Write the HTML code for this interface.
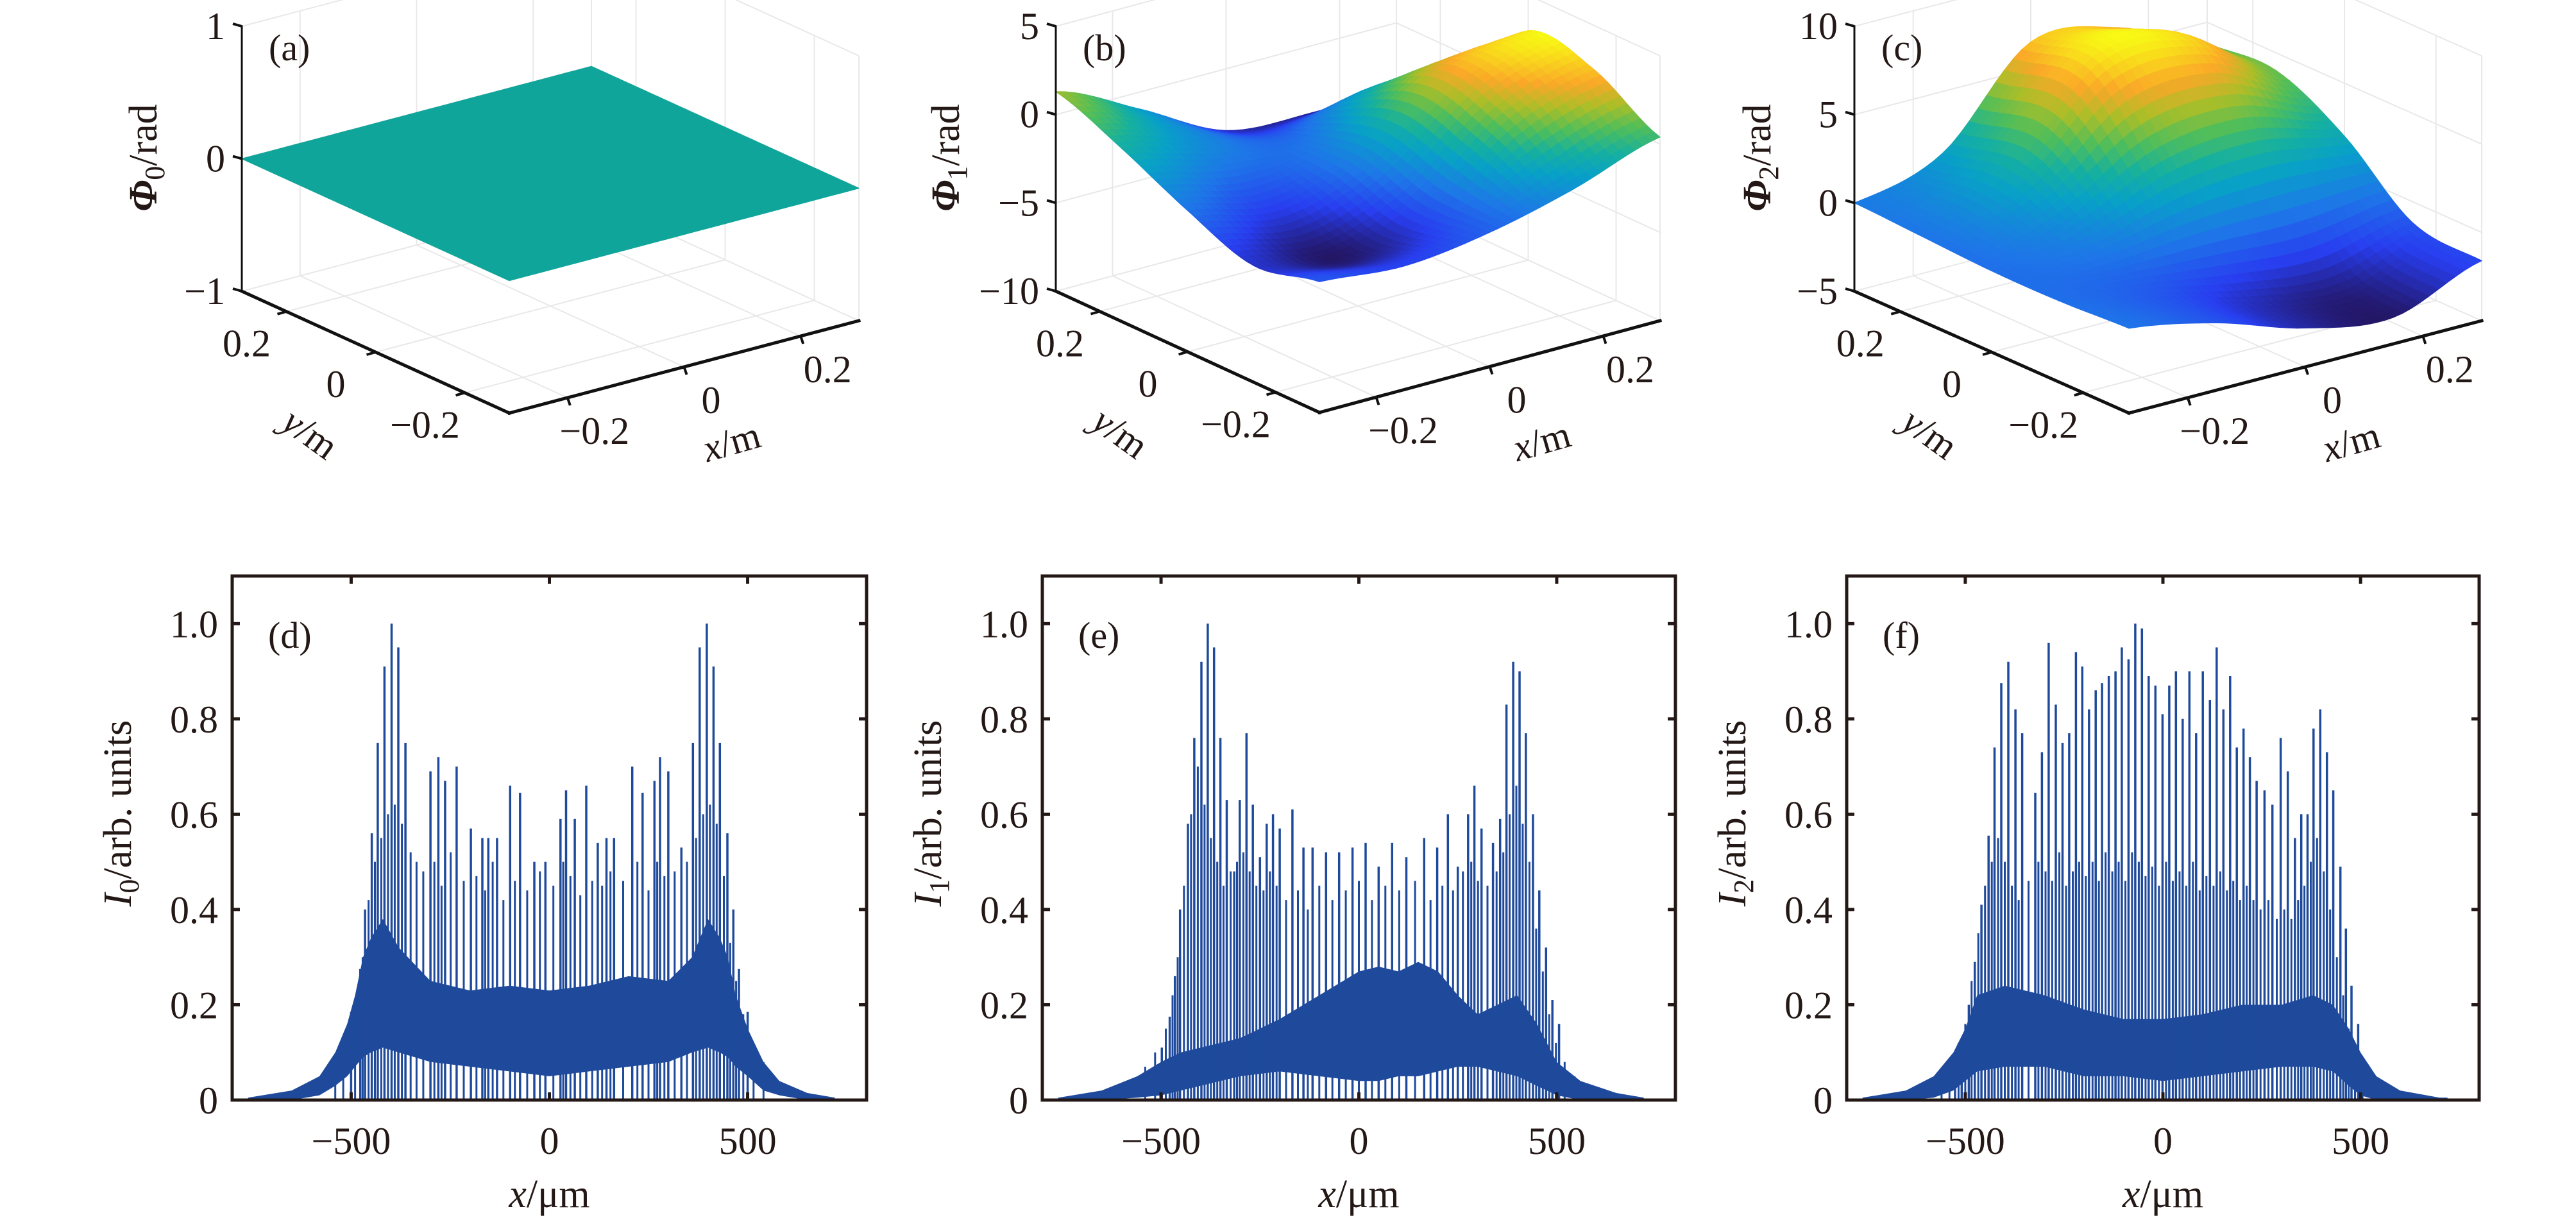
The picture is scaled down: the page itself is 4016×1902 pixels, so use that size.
<!DOCTYPE html>
<html><head><meta charset="utf-8">
<style>
html,body{margin:0;padding:0;background:#fff;}
svg{display:block;}
text{font-family:"Liberation Serif",serif;fill:#231815;}
</style></head>
<body>
<svg id="fig" xmlns="http://www.w3.org/2000/svg" width="4016" height="1902" viewBox="0 0 4016 1902">
<rect width="4016" height="1902" fill="#fff"/>
<g id="top"></g>
<g id="bottom"></g>
</svg>
<script>
// ===== 3D phase surface data (z in rad), rows: y from -0.3 (front) to 0.3, cols: x from -0.3 to 0.3 =====
const phiGridA = [
  [0,0,0,0,0],[0,0,0,0,0],[0,0,0,0,0],[0,0,0,0,0],[0,0,0,0,0]
];
const phiGridB = [
  [-2.6,-3.0,-2.4,-1.2,0.4],
  [-3.4,-4.2,-2.6,1.0,2.5],
  [-2.0,-3.0,-1.5,2.0,3.0],
  [-0.2,-1.5,-2.2,-0.5,-1.5],
  [1.3,-1.0,-3.5,-3.8,-3.6]
];
const phiGridC = [
  [-0.2,-1.2,-2.8,-3.5,-1.6],
  [-0.4,-1.0,-2.0,-2.5,-1.2],
  [-0.4,0.5,2.5,3.0,2.0],
  [-0.2,2.2,7.0,7.0,4.0],
  [0.0,1.5,6.5,6.0,3.8]
];
const xyTicks = [-0.2, 0, 0.2];
const xyTickLabels = ["\u22120.2", "0", "0.2"];
const zTicksA = [-1, 0, 1];
const zTicksB = [-10, -5, 0, 5];
const zTicksC = [-5, 0, 5, 10];

// ===== 2D intensity data =====
const xTicks = [-500, 0, 500];
const xTickLabels = ["\u2212500", "0", "500"];
const yTicks = [0, 0.2, 0.4, 0.6, 0.8, 1.0];
const yTickLabels = ["0", "0.2", "0.4", "0.6", "0.8", "1.0"];

const spikeXD = [-500,-477,-465,-448,-433,-416,-398,-381,-363,-300,-280,-263,-234,-198,-169,-154,-132,-99,-74,-38,-10,28,42,64,93,122,144,163,209,235,265,279,300,333,362,379,397,414,430,449,464,478,500];
const spikeHD = [0.185,0.275,0.40,0.56,0.75,0.91,1.0,0.95,0.75,0.69,0.72,0.67,0.70,0.57,0.55,0.55,0.55,0.66,0.645,0.50,0.50,0.59,0.65,0.59,0.66,0.54,0.55,0.55,0.70,0.645,0.67,0.72,0.69,0.53,0.75,0.95,1.0,0.91,0.75,0.56,0.40,0.275,0.185];
const midXD = [-540,-520,-490,-471,-456,-440,-424,-407,-390,-372,-350,-335,-318,-290,-272,-249,-216,-184,-162,-143,-116,-87,-56,-24,10,35,53,78,108,133,154,186,222,250,272,290,316,347,370,388,405,422,440,456,471,489,515,540];
const midHD = [0.08,0.12,0.2,0.3,0.42,0.5,0.55,0.6,0.62,0.58,0.52,0.5,0.48,0.5,0.45,0.52,0.46,0.47,0.44,0.5,0.42,0.46,0.44,0.48,0.45,0.5,0.47,0.43,0.46,0.45,0.48,0.46,0.5,0.44,0.5,0.47,0.48,0.5,0.55,0.6,0.62,0.58,0.47,0.33,0.25,0.18,0.12,0.08];
const bandXD = [-760,-650,-580,-540,-510,-490,-470,-450,-420,-380,-300,-200,-100,0,100,200,300,360,400,430,450,470,500,540,580,650,720];
const bandHiD = [0.005,0.02,0.05,0.10,0.16,0.22,0.30,0.34,0.38,0.32,0.25,0.23,0.24,0.23,0.24,0.26,0.25,0.30,0.38,0.34,0.30,0.22,0.15,0.08,0.04,0.015,0.005];
const bandLoD = [0,0,0.01,0.03,0.05,0.07,0.09,0.10,0.11,0.10,0.08,0.07,0.06,0.05,0.06,0.07,0.08,0.10,0.11,0.10,0.09,0.07,0.05,0.02,0.01,0,0];

const spikeXE = [-498,-478,-465,-452,-432,-416,-398,-382,-366,-350,-334,-315,-301,-284,-268,-250,-233,-217,-200,-168,-140,-117,-83,-50,-16,17,50,84,120,165,198,225,250,276,292,310,339,357,373,390,406,422,440,456,473,489,506];
const spikeHE = [0.11,0.175,0.26,0.40,0.58,0.76,0.92,1.0,0.95,0.76,0.63,0.48,0.63,0.77,0.62,0.51,0.58,0.60,0.57,0.61,0.53,0.53,0.52,0.52,0.53,0.54,0.49,0.54,0.51,0.55,0.53,0.60,0.49,0.60,0.66,0.57,0.54,0.59,0.83,0.92,0.90,0.77,0.60,0.44,0.32,0.21,0.16];
const midXE = [-540,-515,-488,-471,-458,-442,-424,-407,-390,-374,-358,-342,-324,-308,-292,-276,-259,-241,-225,-208,-184,-154,-129,-100,-67,-33,0,33,67,102,142,181,211,238,263,284,301,325,348,365,381,398,414,431,448,465,481,498,520,545];
const midHE = [0.07,0.1,0.15,0.22,0.3,0.45,0.6,0.7,0.62,0.55,0.5,0.45,0.48,0.5,0.52,0.48,0.45,0.44,0.48,0.45,0.42,0.44,0.4,0.45,0.42,0.44,0.46,0.42,0.45,0.44,0.46,0.42,0.45,0.44,0.48,0.5,0.46,0.45,0.48,0.52,0.6,0.66,0.58,0.5,0.36,0.27,0.18,0.12,0.08,0.05];
const bandXE = [-760,-650,-560,-500,-450,-400,-350,-300,-200,-100,0,50,100,150,200,250,300,350,400,450,500,560,650,720];
const bandHiE = [0.005,0.02,0.05,0.08,0.10,0.11,0.12,0.13,0.17,0.22,0.27,0.28,0.27,0.29,0.27,0.22,0.18,0.20,0.22,0.16,0.08,0.04,0.015,0.005];
const bandLoE = [0,0,0.005,0.01,0.02,0.03,0.04,0.05,0.06,0.05,0.04,0.04,0.05,0.05,0.06,0.07,0.07,0.06,0.05,0.03,0.01,0,0,0];

const spikeXF = [-526,-509,-491,-476,-459,-441,-426,-409,-391,-373,-356,-323,-306,-289,-271,-254,-237,-220,-204,-187,-170,-154,-137,-120,-104,-87,-70,-53,-36,-19,-1,16,33,50,67,84,101,119,136,153,170,187,204,220,237,257,277,298,316,334,350,366,381,398,415,431,449,463,477,494];
const spikeHF = [0.08,0.13,0.20,0.29,0.41,0.555,0.74,0.875,0.92,0.82,0.77,0.645,0.73,0.96,0.83,0.75,0.77,0.94,0.91,0.82,0.86,0.875,0.89,0.90,0.95,0.925,1.0,0.99,0.89,0.87,0.81,0.87,0.90,0.80,0.90,0.77,0.90,0.84,0.95,0.82,0.89,0.74,0.78,0.72,0.67,0.65,0.62,0.76,0.69,0.55,0.60,0.60,0.78,0.82,0.73,0.65,0.49,0.36,0.24,0.16];
const midXF = [-560,-540,-517,-500,-484,-467,-450,-433,-417,-400,-382,-365,-340,-315,-297,-280,-262,-245,-228,-212,-195,-178,-162,-145,-128,-112,-95,-78,-61,-44,-27,-10,8,25,42,59,76,93,110,128,145,162,178,195,212,229,247,267,288,307,325,342,358,374,390,407,423,440,456,470,486,505,530];
const midHF = [0.05,0.07,0.12,0.16,0.25,0.35,0.45,0.5,0.55,0.5,0.45,0.42,0.46,0.5,0.48,0.46,0.52,0.45,0.48,0.5,0.47,0.5,0.46,0.52,0.48,0.5,0.46,0.52,0.5,0.47,0.49,0.45,0.5,0.46,0.48,0.45,0.5,0.44,0.47,0.45,0.48,0.44,0.46,0.42,0.45,0.42,0.4,0.42,0.38,0.4,0.38,0.42,0.45,0.5,0.55,0.48,0.4,0.3,0.22,0.15,0.1,0.07,0.04];
const bandXF = [-760,-650,-580,-530,-500,-470,-400,-300,-200,-100,0,100,200,300,380,430,470,500,540,600,700,720];
const bandHiF = [0.005,0.02,0.05,0.10,0.15,0.22,0.24,0.22,0.19,0.17,0.17,0.18,0.20,0.20,0.22,0.20,0.15,0.10,0.05,0.02,0.005,0.005];
const bandLoF = [0,0,0.005,0.02,0.04,0.06,0.07,0.07,0.05,0.05,0.04,0.05,0.06,0.07,0.07,0.06,0.03,0.01,0,0,0,0];

const NS = "http://www.w3.org/2000/svg";
function mk(tag, attrs, parent){
  const e = document.createElementNS(NS, tag);
  for (const k in attrs) e.setAttribute(k, attrs[k]);
  if (parent) parent.appendChild(e);
  return e;
}

const cmapStops = [[0,[35,22,100]],[0.15,[40,62,240]],[0.3,[30,118,232]],[0.45,[8,160,200]],[0.55,[22,176,160]],[0.65,[80,190,90]],[0.75,[170,190,40]],[0.85,[250,168,40]],[1,[248,250,20]]];
function cmap(t){
  t = Math.max(0, Math.min(1, t));
  for (let i = 1; i < cmapStops.length; i++) {
    if (t <= cmapStops[i][0]) {
      const a = cmapStops[i-1], b = cmapStops[i];
      const f = (t - a[0]) / (b[0] - a[0]);
      const c = a[1].map((v, k) => Math.round(v + (b[1][k] - v) * f));
      return "rgb(" + c.join(",") + ")";
    }
  }
  return "rgb(248,250,20)";
}
function cr(p0,p1,p2,p3,t){
  return 0.5*(2*p1 + (-p0+p2)*t + (2*p0-5*p1+4*p2-p3)*t*t + (-p0+3*p1-3*p2+p3)*t*t*t);
}
function sample(grid, u, v){
  const n = grid.length - 1;
  const gu = u*n, gv = v*n;
  let i = Math.min(n-1, Math.floor(gu)), j = Math.min(n-1, Math.floor(gv));
  const tu = gu - i, tv = gv - j;
  const cl = k => Math.max(0, Math.min(n, k));
  const rows = [];
  for (let r = -1; r <= 2; r++) {
    const row = grid[cl(j+r)];
    rows.push(cr(row[cl(i-1)], row[cl(i)], row[cl(i+1)], row[cl(i+2)], tu));
  }
  return cr(rows[0], rows[1], rows[2], rows[3], tv);
}

const panels3D = [
  {id:"a", grid:phiGridA, zTicks:zTicksA, zmin:-1, zmax:1, left:[377,454], front:[794,644], right:[1339,500], top:41, sub:"0", zlabOff:153},
  {id:"b", grid:phiGridB, zTicks:zTicksB, zmin:-10, zmax:5, left:[1646,454], front:[2057,643], right:[2588,500], top:41, sub:"1", zlabOff:171},
  {id:"c", grid:phiGridC, zTicks:zTicksC, zmin:-5, zmax:10, left:[2891,454], front:[3319,644], right:[3869,500], top:41, sub:"2", zlabOff:151}
];

const topG = document.getElementById("top");
panels3D.forEach(p => {
  const g = mk("g", {}, topG);
  
  
  const zs = (p.left[1] - p.top) / (p.zmax - p.zmin);
  const proj = (u, v, z) => {
    const x = p.front[0] + u*(p.right[0]-p.front[0]) + v*(p.left[0]-p.front[0]);
    const y = p.front[1] + u*(p.right[1]-p.front[1]) + v*(p.left[1]-p.front[1]) - (z - p.zmin)*zs;
    return [x, y];
  };
  const uOf = x => (x + 0.3) / 0.6;
  const grid = mk("g", {stroke:"#e8e8e8", "stroke-width":2, fill:"none"}, g);
  
  
  const line = (a, b, par) => mk("line", {x1:a[0].toFixed(1), y1:a[1].toFixed(1), x2:b[0].toFixed(1), y2:b[1].toFixed(1)}, par);
  xyTicks.forEach(t => {
    const u = uOf(t);
    line(proj(u,0,p.zmin), proj(u,1,p.zmin), grid);
    line(proj(0,u,p.zmin), proj(1,u,p.zmin), grid);
    line(proj(u,1,p.zmin), proj(u,1,p.zmax), grid);
    line(proj(1,u,p.zmin), proj(1,u,p.zmax), grid);
  });
  p.zTicks.forEach(z => {
    line(proj(0,1,z), proj(1,1,z), grid);
    line(proj(1,1,z), proj(1,0,z), grid);
  });
  line(proj(1,1,p.zmin), proj(1,1,p.zmax), grid);
  line(proj(1,0,p.zmin), proj(1,0,p.zmax), grid);

  const surf = mk("g", {}, g);
  
  
  const N = 40;
  const zv = [];
  let mn = Infinity, mx = -Infinity;
  for (let j = 0; j <= N; j++) { zv.push([]); for (let i = 0; i <= N; i++) {
    const z = sample(p.grid, i/N, j/N); zv[j].push(z); mn = Math.min(mn, z); mx = Math.max(mx, z);
  }}
  const quads = [];
  for (let j = 0; j < N; j++) for (let i = 0; i < N; i++) quads.push([i, j]);
  quads.sort((a, b) => (b[0]+b[1]) - (a[0]+a[1]));
  quads.forEach(([i, j]) => {
    const pts = [[i,j],[i+1,j],[i+1,j+1],[i,j+1]].map(([a,b]) => proj(a/N, b/N, zv[b][a]));
    const zavg = (zv[j][i]+zv[j][i+1]+zv[j+1][i]+zv[j+1][i+1])/4;
    const col = (mx - mn) < 1e-9 ? "#10a59a" : cmap((zavg - mn)/(mx - mn));
    mk("polygon", {points: pts.map(q => q[0].toFixed(1)+","+q[1].toFixed(1)).join(" "), fill: col, stroke: col, "stroke-width": 1.3, "stroke-linejoin":"round"}, surf);
  });

  const ax = mk("g", {stroke:"#111", "stroke-width":5, fill:"none", "stroke-linecap":"square"}, g);
  
  
  line(proj(0,1,p.zmin), proj(0,0,p.zmin), ax);
  line(proj(0,0,p.zmin), proj(1,0,p.zmin), ax);
  const zl = line(proj(0,1,p.zmin), proj(0,1,p.zmax), ax);
  zl.setAttribute("stroke-width", 3);
  const tk = mk("g", {stroke:"#111", "stroke-width":4}, g);
  
  
  xyTicks.forEach((t, k) => {
    const u = uOf(t);
    const a = proj(0, u, p.zmin); line(a, [a[0]-14, a[1]+4], tk);
    const b = proj(u, 0, p.zmin); line(b, [b[0]+4, b[1]+12], tk);
    const ty = mk("text", {x:(a[0]-62).toFixed(1), y:(a[1]+70).toFixed(1), "font-size":60, "text-anchor":"middle"}, g);
    ty.textContent = xyTickLabels[k];
    
    
    const tx = mk("text", {x:(b[0]+42).toFixed(1), y:(b[1]+72).toFixed(1), "font-size":60, "text-anchor":"middle"}, g);
    tx.textContent = xyTickLabels[k];
    
    
  });
  p.zTicks.forEach(z => {
    const a = proj(0, 1, z); line(a, [a[0]-14, a[1]-4], tk);
    const t = mk("text", {x:(a[0]-26).toFixed(1), y:(a[1]+20).toFixed(1), "font-size":60, "text-anchor":"end"}, g);
    t.textContent = z < 0 ? "\u2212" + Math.abs(z) : String(z);
    
    
  });
  const fy = p.front;
  const yl = mk("text", {x:0, y:0, "font-size":60, "text-anchor":"middle", transform:"translate("+(fy[0]-322)+","+(fy[1]+48)+") rotate(36)"}, g);
  yl.innerHTML = '<tspan font-style="italic">y</tspan>/m';
  
  
  const xl = mk("text", {x:0, y:0, "font-size":60, "text-anchor":"middle", transform:"translate("+(fy[0]+352)+","+(fy[1]+64)+") rotate(-16)"}, g);
  xl.innerHTML = '<tspan font-style="italic">x</tspan>/m';
  
  
  const zt = mk("text", {x:0, y:0, "font-size":62, "text-anchor":"middle", transform:"translate("+(p.left[0]-p.zlabOff+20)+",246) rotate(-90)"}, g);
  zt.innerHTML = '<tspan font-style="italic" font-weight="bold">\u03A6</tspan><tspan font-size="44" dy="12">' + p.sub + '</tspan><tspan dy="-12">/rad</tspan>';
  
  
  const pl = mk("text", {x:p.left[0]+42, y:94, "font-size":58}, g);
  pl.textContent = "(" + p.id + ")";
  
  
});

const panels2D = [
  {id:"d", L:362, R:1351, sub:"0", sx:spikeXD, sh:spikeHD, mx:midXD, mh:midHD, bx:bandXD, bh:bandHiD, bl:bandLoD},
  {id:"e", L:1625, R:2612, sub:"1", sx:spikeXE, sh:spikeHE, mx:midXE, mh:midHE, bx:bandXE, bh:bandHiE, bl:bandLoE},
  {id:"f", L:2879, R:3865, sub:"2", sx:spikeXF, sh:spikeHF, mx:midXF, mh:midHF, bx:bandXF, bh:bandHiF, bl:bandLoF}
];
const T = 898, B = 1715;
const botG = document.getElementById("bottom");
panels2D.forEach(p => {
  const g = mk("g", {}, botG);
  
  
  const X = x => p.L + (x + 800) / 1600 * (p.R - p.L);
  const Y = v => B - v / 1.1 * (B - T);
  const pts = [];
  p.bx.forEach((x, k) => pts.push(X(x).toFixed(1) + "," + Y(p.bh[k]).toFixed(1)));
  for (let k = p.bx.length - 1; k >= 0; k--) pts.push(X(p.bx[k]).toFixed(1) + "," + Y(p.bl[k]).toFixed(1));
  const band = mk("polygon", {points: pts.join(" "), fill:"#1f4a9c"}, g);
  
  
  const mid = mk("g", {stroke:"#1f4a9c", "stroke-width":3}, g);
  
  
  p.mx.forEach((x, k) => {
    const l = mk("line", {x1:X(x).toFixed(1), x2:X(x).toFixed(1), y1:Y(0).toFixed(1), y2:Y(p.mh[k]).toFixed(1)}, mid);
    
    
  });
  const sp = mk("g", {stroke:"#1f4a9c", "stroke-width":3.5}, g);
  
  
  p.sx.forEach((x, k) => {
    const l = mk("line", {x1:X(x).toFixed(1), x2:X(x).toFixed(1), y1:Y(0).toFixed(1), y2:Y(p.sh[k]).toFixed(1)}, sp);
    
    
  });
  const box = mk("rect", {x:p.L, y:T, width:p.R-p.L, height:B-T, fill:"none", stroke:"#231815", "stroke-width":5}, g);
  
  
  const tk = mk("g", {stroke:"#231815", "stroke-width":5}, g);
  
  
  xTicks.forEach((x, k) => {
    mk("line", {x1:X(x), x2:X(x), y1:B, y2:B-12}, tk);
    mk("line", {x1:X(x), x2:X(x), y1:T, y2:T+12}, tk);
    const t = mk("text", {x:X(x), y:B+84, "font-size":60, "text-anchor":"middle"}, g);
    t.textContent = xTickLabels[k];
    
    
  });
  yTicks.forEach((v, k) => {
    mk("line", {x1:p.L, x2:p.L+12, y1:Y(v), y2:Y(v)}, tk);
    mk("line", {x1:p.R, x2:p.R-12, y1:Y(v), y2:Y(v)}, tk);
    const t = mk("text", {x:p.L-22, y:Y(v)+21, "font-size":60, "text-anchor":"end"}, g);
    t.textContent = yTickLabels[k];
    
    
  });
  const xl = mk("text", {x:(p.L+p.R)/2, y:1882, "font-size":62, "text-anchor":"middle"}, g);
  xl.innerHTML = '<tspan font-style="italic">x</tspan>/\u03BCm';
  
  
  const yl = mk("text", {x:0, y:0, "font-size":62, "text-anchor":"middle", transform:"translate(" + (p.L-158) + ",1268) rotate(-90)"}, g);
  yl.innerHTML = '<tspan font-style="italic">I</tspan><tspan font-size="44" dy="12">' + p.sub + '</tspan><tspan dy="-12">/arb. units</tspan>';
  
  
  const pl = mk("text", {x:p.L+56, y:1010, "font-size":58}, g);
  pl.textContent = "(" + p.id + ")";
  
  
});
</script>
</body></html>
